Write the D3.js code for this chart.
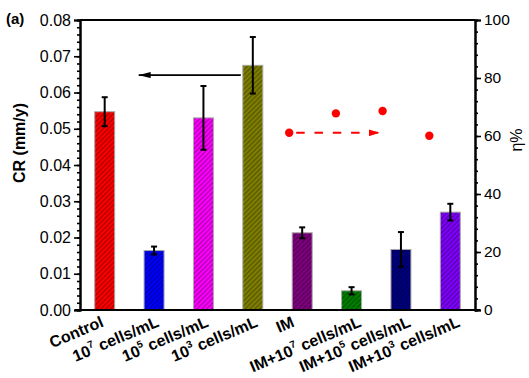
<!DOCTYPE html>
<html><head><meta charset="utf-8">
<script src="https://cdn.jsdelivr.net/npm/d3@7"></script>
<style>body{margin:0;background:#fff}</style>
</head><body><svg id="c" width="529" height="378"></svg>
<script>
const categories = ["Control","10^7 cells/mL","10^5 cells/mL","10^3 cells/mL","IM","IM+10^7 cells/mL","IM+10^5 cells/mL","IM+10^3 cells/mL"];
const crValues = [0.0547, 0.0164, 0.0530, 0.0675, 0.0213, 0.0053, 0.0167, 0.0270];
const crErrors = [0.0040, 0.0011, 0.0088, 0.0078, 0.0015, 0.0010, 0.0048, 0.0023];
const barColors = ["#ff0000","#0000ff","#ff00ff","#808000","#800080","#008000","#000080","#8000ff"];
const etaCategories = ["IM","IM+10^7 cells/mL","IM+10^5 cells/mL","IM+10^3 cells/mL"];
const etaValues = [61.1, 67.8, 68.6, 60.1];
const crTicks = [0,0.01,0.02,0.03,0.04,0.05,0.06,0.07,0.08];
const etaTicks = [0,20,40,60,80,100];

const svg = d3.select("#c");
const W = 529, H = 378;
const m = {l:80, r:54, t:20, b:68};
const FONT = "'Liberation Sans', Arial, sans-serif";

const x = d3.scaleBand().domain(categories).range([m.l, W-m.r]).paddingInner(0.595).paddingOuter(0.2975);
const y = d3.scaleLinear().domain([0,0.08]).range([H-m.b, m.t]);
const y2 = d3.scaleLinear().domain([0,100]).range([H-m.b, m.t]);
const bw = x.bandwidth();
const cx = c => x(c) + bw/2;
const xEta = d3.scalePoint().domain(etaCategories)
  .range([cx(etaCategories[0]) - 13, cx(etaCategories[3]) - 21]);

// hatch patterns
const defs = svg.append("defs");
barColors.forEach((c,i)=>{
  const p = defs.append("pattern").attr("id","h"+i).attr("patternUnits","userSpaceOnUse")
    .attr("width",3.4).attr("height",3.4).attr("patternTransform","rotate(45)");
  p.append("rect").attr("width",3.4).attr("height",3.4).attr("fill",c);
  p.append("line").attr("x1",0.8).attr("y1",0).attr("x2",0.8).attr("y2",3.4)
    .attr("stroke", d3.color(c).darker(1.4)).attr("stroke-width",1.1);
});
defs.append("marker").attr("id","ab").attr("viewBox","0 0 12 6").attr("refX",12).attr("refY",3)
  .attr("markerWidth",12).attr("markerHeight",6).attr("markerUnits","userSpaceOnUse").attr("orient","auto")
  .append("path").attr("d","M0,0L12,3L0,6Z").attr("fill","#000");
defs.append("marker").attr("id","ar").attr("viewBox","0 0 11 7").attr("refX",11).attr("refY",3.5)
  .attr("markerWidth",11).attr("markerHeight",7).attr("markerUnits","userSpaceOnUse").attr("orient","auto")
  .append("path").attr("d","M0,0L11,3.5L0,7Z").attr("fill","#ff0000");

// bars
svg.append("g").selectAll("rect").data(categories).join("rect")
  .attr("x", d=>x(d)).attr("y", (d,i)=>y(crValues[i]))
  .attr("width", bw).attr("height", (d,i)=>y(0)-y(crValues[i]))
  .attr("fill", (d,i)=>"url(#h"+i+")").attr("stroke","#a8a8a8").attr("stroke-width",1);

// error bars
const eg = svg.append("g").attr("stroke","#000").attr("stroke-width",2);
categories.forEach((c,i)=>{
  const hi = y(crValues[i]+crErrors[i]), lo = y(crValues[i]-crErrors[i]);
  eg.append("line").attr("x1",cx(c)).attr("x2",cx(c)).attr("y1",hi).attr("y2",lo);
  eg.append("line").attr("x1",cx(c)-3).attr("x2",cx(c)+3).attr("y1",hi).attr("y2",hi);
  eg.append("line").attr("x1",cx(c)-3).attr("x2",cx(c)+3).attr("y1",lo).attr("y2",lo);
});

// eta dots
svg.append("g").selectAll("circle").data(etaCategories).join("circle")
  .attr("cx", d=>xEta(d)).attr("cy",(d,i)=>y2(etaValues[i])).attr("r",4.2).attr("fill","#ff0000");

// arrows
svg.append("line").attr("x1", x(categories[3]) - 2).attr("x2", x(categories[0]) + bw + 24)
  .attr("y1", y(0.0648)).attr("y2", y(0.0648)).attr("stroke","#000").attr("stroke-width",1.8)
  .attr("marker-end","url(#ab)");
svg.append("line").attr("x1", xEta(etaCategories[0]) + 7).attr("x2", xEta(etaCategories[2]) - 3)
  .attr("y1", y2(etaValues[0])).attr("y2", y2(etaValues[0])).attr("stroke","#ff0000").attr("stroke-width",2)
  .attr("stroke-dasharray","8.5,9.8").attr("marker-end","url(#ar)");

// axes
const ax = svg.append("g").attr("stroke","#000").attr("stroke-width",2);
ax.append("line").attr("x1",m.l).attr("x2",W-m.r).attr("y1",m.t).attr("y2",m.t);
ax.append("line").attr("x1",m.l-5).attr("x2",W-m.r+5).attr("y1",H-m.b).attr("y2",H-m.b);

const left = svg.append("g").attr("transform",`translate(${m.l},0)`)
  .call(d3.axisLeft(y).tickValues(crTicks).tickFormat(d3.format(".2f")).tickSize(6).tickPadding(3));
const leftMinor = svg.append("g").attr("transform",`translate(${m.l},0)`)
  .call(d3.axisLeft(y).tickValues(d3.range(0,0.0801,0.002)).tickFormat("").tickSize(3));
const right = svg.append("g").attr("transform",`translate(${W-m.r},0)`)
  .call(d3.axisRight(y2).tickValues(etaTicks).tickSize(6).tickPadding(3));
const rightMinor = svg.append("g").attr("transform",`translate(${W-m.r},0)`)
  .call(d3.axisRight(y2).tickValues(d3.range(0,100.1,4)).tickFormat("").tickSize(3));
[left,leftMinor,right,rightMinor].forEach(g=>{
  g.select(".domain").attr("stroke-width",2).attr("stroke","#000");
  g.selectAll(".tick line").attr("stroke-width",1.6).attr("stroke","#000");
  g.selectAll("text").attr("font-family",FONT).attr("font-size",16).attr("fill","#000");
});
right.selectAll("text").attr("font-size",15.5);

// x labels
const ANG = 23, rad = ANG*Math.PI/180;
const xl = svg.append("g");
categories.forEach(c=>{
  const t = xl.append("text").attr("font-family",FONT).attr("font-weight","bold").attr("font-size",16)
    .attr("text-anchor","end");
  const mm = c.match(/^(.*?)10\^(\d)(.*)$/);
  if (mm) {
    t.append("tspan").text(mm[1]+"10");
    t.append("tspan").attr("font-size",10).attr("dy",-7).text(mm[2]);
    t.append("tspan").attr("dy",7).text(mm[3]);
  } else t.text(c);
  const L = t.node().getComputedTextLength();
  const ex = cx(c) - 10 + 0.19*L*Math.cos(rad);
  t.attr("transform",`translate(${ex},${H-m.b+16}) rotate(${-ANG})`);
});

// titles
svg.append("text").attr("transform",`translate(25,${143}) rotate(-90)`).attr("text-anchor","middle")
  .attr("font-family",FONT).attr("font-weight","bold").attr("font-size",16).text("CR (mm/y)");
svg.append("text").attr("transform",`translate(522,${140}) rotate(-90)`).attr("text-anchor","middle")
  .attr("font-family",FONT).attr("font-size",16).text("η%");
svg.append("text").attr("x",6).attr("y",24).attr("font-family",FONT).attr("font-weight","bold")
  .attr("font-size",15).text("(a)");
</script></body></html>
